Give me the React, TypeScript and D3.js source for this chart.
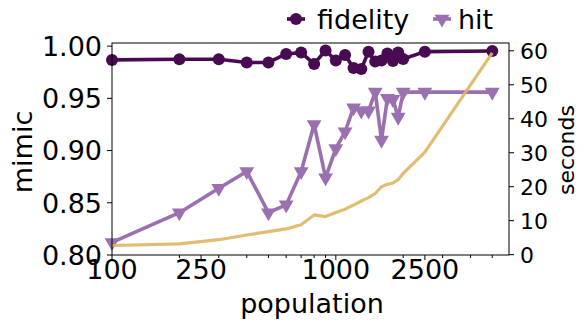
import React from 'react';
import * as d3 from 'd3';

const population = [100, 200, 300, 400, 500, 600, 700, 800, 900, 1000, 1100, 1200, 1300, 1400, 1500, 1600, 1700, 1800, 1900, 2000, 2500, 5000];
const fidelity = [0.9868, 0.9875, 0.9875, 0.9844, 0.9844, 0.9925, 0.9938, 0.983, 0.9959, 0.9863, 0.9916, 0.9791, 0.9782, 0.9947, 0.9852, 0.9863, 0.993, 0.9858, 0.994, 0.9877, 0.9947, 0.9954];
const hit = [0.812, 0.8405, 0.864, 0.88, 0.8405, 0.848, 0.88, 0.925, 0.874, 0.902, 0.918, 0.941, 0.938, 0.938, 0.956, 0.91, 0.95, 0.949, 0.932, 0.956, 0.956, 0.956];
const seconds = [2.7, 3.2, 4.4, 5.8, 6.8, 7.6, 8.8, 11.7, 11.2, 12.4, 13.4, 14.6, 15.8, 16.8, 18, 20, 20.7, 21.1, 22.1, 23.9, 30.2, 59.4];

const xMajorTicks = [100, 250, 1000, 2500];
const xMinorTicks = [200, 300, 400, 500, 600, 700, 800, 900, 2000, 3000, 4000, 5000];
const leftTicks = [0.8, 0.85, 0.9, 0.95, 1.0];
const rightTicks = [0, 10, 20, 30, 40, 50, 60];

const W = 586;
const H = 332;
const M = { left: 112, right: 509, top: 43, bottom: 255 };

const FIDELITY = '#480a50';
const HIT = '#9b70b0';
const GOLD = '#e0b565';
const FONT = 'DejaVu Sans, sans-serif';
const BIG = 27;
const SMALL = 22;

export default function App() {
  // log x axis, two y axes (twinx style)
  const x = d3.scaleLog().domain([100, 5940]).range([M.left, M.right]);
  const yL = d3.scaleLinear().domain([0.8, 1.003]).range([M.bottom, M.top]);
  const yR = d3.scaleLinear().domain([-0.1, 62.3]).range([M.bottom, M.top]);

  const lineL = d3.line<number>().x((_, i) => x(population[i])).y((d) => yL(d));
  const lineR = d3.line<number>().x((_, i) => x(population[i])).y((d) => yR(d));
  const tri = d3.symbol().type(d3.symbolTriangle).size(95)() as string;

  return (
    <svg width={W} height={H} style={{ position: 'absolute', left: 0, top: 0 }} fontFamily={FONT}>
      <rect width={W} height={H} fill="#fff" />

      {/* hit */}
      <path d={lineL(hit) ?? ''} fill="none" stroke={HIT} strokeWidth={3.6} strokeLinejoin="round" />
      {hit.map((d, i) => (
        <path key={'h' + i} d={tri} fill={HIT} transform={`translate(${x(population[i])},${yL(d)}) rotate(180)`} />
      ))}

      {/* fidelity */}
      <path d={lineL(fidelity) ?? ''} fill="none" stroke={FIDELITY} strokeWidth={3.6} strokeLinejoin="round" />
      {fidelity.map((d, i) => (
        <circle key={'f' + i} cx={x(population[i])} cy={yL(d)} r={6} fill={FIDELITY} />
      ))}

      {/* seconds */}
      <path d={lineR(seconds) ?? ''} fill="none" stroke={GOLD} strokeWidth={3.2} strokeOpacity={0.9} strokeLinejoin="round" />

      {/* frame */}
      <rect x={M.left} y={M.top} width={M.right - M.left} height={M.bottom - M.top} fill="none" stroke="#000" strokeWidth={1} />

      {/* left axis */}
      {leftTicks.map((t) => (
        <g key={'l' + t} transform={`translate(${M.left},${yL(t)})`}>
          <line x1={-5} x2={0} stroke="#000" />
          <text x={-10} dy="0.36em" textAnchor="end" fontSize={BIG}>{t.toFixed(2)}</text>
        </g>
      ))}
      <text transform={`translate(32,152) rotate(-90)`} textAnchor="middle" fontSize={BIG}>mimic</text>

      {/* right axis */}
      {rightTicks.map((t) => (
        <g key={'r' + t} transform={`translate(${M.right},${yR(t)})`}>
          <line x1={0} x2={5} stroke="#000" />
          <text x={11} dy="0.36em" textAnchor="start" fontSize={SMALL}>{t}</text>
        </g>
      ))}
      <text transform={`translate(574,150) rotate(-90)`} textAnchor="middle" fontSize={SMALL}>seconds</text>

      {/* bottom axis */}
      {xMinorTicks.map((t) => (
        <line key={'m' + t} x1={x(t)} x2={x(t)} y1={M.bottom} y2={M.bottom + 3} stroke="#000" />
      ))}
      {xMajorTicks.map((t) => (
        <g key={'b' + t} transform={`translate(${x(t)},${M.bottom})`}>
          <line y1={0} y2={5} stroke="#000" />
          <text y={24} textAnchor="middle" fontSize={BIG}>{t}</text>
        </g>
      ))}
      <text x={312} y={313} textAnchor="middle" fontSize={BIG}>population</text>

      {/* legend */}
      <g transform="translate(296,19)">
        <line x1={-9} x2={9} stroke={FIDELITY} strokeWidth={3.6} />
        <circle r={6} fill={FIDELITY} />
        <text x={21} dy="0.36em" fontSize={BIG}>fidelity</text>
      </g>
      <g transform="translate(442,19)">
        <line x1={-9} x2={9} stroke={HIT} strokeWidth={3.6} />
        <path d={tri} fill={HIT} transform="rotate(180)" />
        <text x={16} dy="0.36em" fontSize={BIG}>hit</text>
      </g>
    </svg>
  );
}
